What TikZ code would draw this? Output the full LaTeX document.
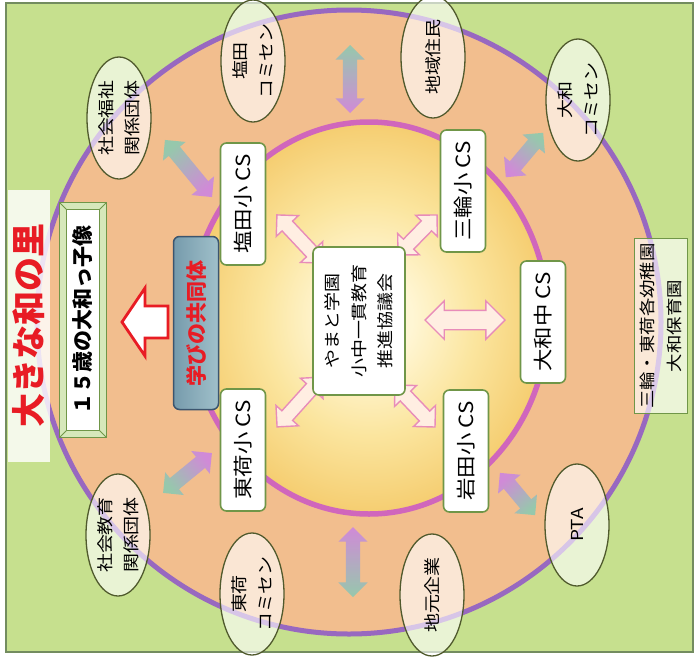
\documentclass[tikz,border=0pt]{standalone}
\usepackage{fontspec}
\setmainfont{Noto Sans CJK JP}[FakeStretch=1.15]
\newfontfamily\plainjp{Noto Sans CJK JP}
\usetikzlibrary{shapes.geometric,shapes.arrows}
\definecolor{bggreen}{RGB}{198,224,142}
\definecolor{peach}{RGB}{242,190,142}
\definecolor{yolkedge}{RGB}{245,205,112}
\definecolor{yolkmid}{RGB}{251,229,158}
\definecolor{yolkctr}{RGB}{255,246,212}
\definecolor{ringpurple}{RGB}{152,104,192}
\definecolor{ringmag}{RGB}{208,102,188}
\definecolor{framegreen}{RGB}{115,140,95}
\definecolor{boxgreen}{RGB}{112,150,72}
\definecolor{olivec}{RGB}{80,90,45}
\definecolor{arrpurple}{RGB}{208,138,215}
\definecolor{arrgreen}{RGB}{150,200,172}
\definecolor{pinkline}{RGB}{232,140,185}
\definecolor{pinkfill}{RGB}{255,238,226}
\definecolor{titlered}{RGB}{232,28,36}
\definecolor{commdark}{RGB}{118,155,172}
\definecolor{commlight}{RGB}{160,192,202}
\definecolor{commline}{RGB}{60,85,110}
\definecolor{frameband}{RGB}{214,232,186}
\pgfdeclareradialshading{yolk}{\pgfpoint{0bp}{0bp}}{color(0bp)=(yolkctr); color(6bp)=(yolkctr); color(15bp)=(yolkmid); color(25bp)=(yolkedge); color(50bp)=(yolkedge)}
\begin{document}
\begin{tikzpicture}[x=1pt,y=-1pt,
  every node/.style={inner sep=0pt, outer sep=0pt},
  partner/.style={ellipse, draw=olivec, line width=1.3pt, fill=white, fill opacity=0.62, text opacity=1, rotate=90, minimum width=122pt, minimum height=64pt, align=center, font=\fontsize{16.5}{26}\selectfont},
  csbox/.style={rectangle, rounded corners=6pt, draw=boxgreen, line width=1.6pt, fill=white, rotate=90, minimum width=122pt, minimum height=45pt, align=center, font=\fontsize{19.5}{24}\selectfont},
  bigarrow/.style={double arrow, inner sep=7pt, double arrow head extend=7.5pt, double arrow tip angle=90, minimum width=29pt, top color=arrgreen, bottom color=arrpurple, draw=none},
  pinkarrow/.style={double arrow, inner sep=6.5pt, double arrow head extend=8pt, double arrow tip angle=90, minimum width=29pt, draw=pinkline, line width=1.4pt, fill=pinkfill},
]
\useasboundingbox (0,0) rectangle (696,659);
\fill[white] (0,0) rectangle (696,659);
\draw[framegreen, line width=1.2pt, fill=bggreen] (6,3) rectangle (693,652);
% rings
\draw[ringpurple, line width=5pt, fill=peach] (349,322) circle [radius=312pt];
\shade[shading=yolk] (369,318) ellipse [x radius=179pt, y radius=196pt];
\draw[ringmag, line width=5.5pt] (369,318) ellipse [x radius=179pt, y radius=196pt];
% title band
\fill[white, opacity=0.82] (8,190) rectangle (50,462);
\node[rotate=90, font=\plainjp\bfseries\fontsize{34}{34}\selectfont, text=titlered] (title) at (29,325) {大きな和の里};
% partner ellipses
\node[partner] (e1) at (119,118) {社会福祉\\関係団体};
\node[partner] (e2) at (253,61) {塩田\\コミセン};
\node[partner] (e3) at (433,57) {地域住民};
\node[partner] (e4) at (578,100) {大和\\コミセン};
\node[partner] (e5) at (118,535) {社会教育\\関係団体};
\node[partner] (e6) at (252,594) {東荷\\コミセン};
\node[partner] (e7) at (432,595) {地元企業};
\node[partner] (e8) at (577,525) {PTA};
% big connectors
\coordinate (a1o) at (165,140); \coordinate (a1i) at (212,197);
\coordinate (a2o) at (350,45);  \coordinate (a2i) at (350,113);
\coordinate (a3o) at (543,133); \coordinate (a3i) at (506,177);
\coordinate (a4o) at (163,493); \coordinate (a4i) at (212,453);
\coordinate (a5i) at (353,527); \coordinate (a5o) at (353,597);
\coordinate (a6i) at (500,473); \coordinate (a6o) at (535,515);
\path (a1o) -- node[bigarrow, sloped, minimum height=74pt, shading angle=39.5] (A1) {} (a1i);
\path (a2o) -- node[bigarrow, sloped, minimum height=68pt, shading angle=0] (A2) {} (a2i);
\path (a3o) -- node[bigarrow, sloped, minimum height=58pt, shading angle=-40] (A3) {} (a3i);
\path (a4o) -- node[bigarrow, sloped, minimum height=63pt, shading angle=129.2] (A4) {} (a4i);
\path (a5i) -- node[bigarrow, sloped, minimum height=70pt, shading angle=180] (A5) {} (a5o);
\path (a6i) -- node[bigarrow, sloped, minimum height=55pt, shading angle=-140.2] (A6) {} (a6o);
% pink connectors
\coordinate (p1a) at (277,215); \coordinate (p1b) at (322,263);
\coordinate (p2a) at (437,215); \coordinate (p2b) at (398,255);
\coordinate (p3a) at (277,427); \coordinate (p3b) at (322,377);
\coordinate (p4a) at (395,385); \coordinate (p4b) at (435,427);
\coordinate (p5a) at (425,320); \coordinate (p5b) at (505,320);
\path (p1a) -- node[pinkarrow, sloped, minimum height=66pt] (P1) {} (p1b);
\path (p2a) -- node[pinkarrow, sloped, minimum height=56pt] (P2) {} (p2b);
\path (p3a) -- node[pinkarrow, sloped, minimum height=67pt] (P3) {} (p3b);
\path (p4a) -- node[pinkarrow, sloped, minimum height=58pt] (P4) {} (p4b);
\path (p5a) -- node[pinkarrow, sloped, minimum height=80pt, minimum width=37pt, inner sep=9pt, double arrow head extend=9.5pt] (P5) {} (p5b);
% CS boxes
\node[csbox] (cs1) at (243,204) {塩田小 CS};
\node[csbox] (cs2) at (463,191) {三輪小 CS};
\node[csbox] (cs3) at (243,450) {東荷小 CS};
\node[csbox] (cs4) at (466,451) {岩田小 CS};
\node[csbox] (cs5) at (543,322) {大和中 CS};
\node[csbox, minimum width=148pt, minimum height=92pt, font=\fontsize{16.5}{26.5}\selectfont] (ctr) at (359,321) {やまと学園\\小中一貫教育\\推進協議会};
% community box
\node[rectangle, rounded corners=6pt, draw=commline, line width=1.5pt, left color=commdark, right color=commlight, rotate=90, minimum width=173pt, minimum height=45pt, font=\plainjp\bfseries\fontsize{21}{21}\selectfont, text=titlered] (manabi) at (196,323) {学びの共同体};
% red arrow
\draw[titlered, line width=2.8pt, line join=miter, fill=white] (122,322) -- (145,288) -- (145,306) -- (168,306) -- (168,338) -- (145,338) -- (145,356) -- cycle;
% 15-year-old box
\node[rectangle, draw=boxgreen, line width=1.2pt, fill=frameband, rotate=90, minimum width=235pt, minimum height=47pt] (ybo) at (83,320) {};
\node[rectangle, draw=boxgreen, line width=1pt, fill=white, rotate=90, minimum width=221pt, minimum height=33pt, font=\plainjp\bfseries\fontsize{21}{21}\selectfont] (ybi) at (83,320) {１５歳の大和っ子像};
\foreach \c in {north east, north west, south east, south west} \draw[boxgreen, line width=0.8pt] (ybo.\c) -- (ybi.\c);
% kindergarten box
\node[rectangle, draw=boxgreen, line width=1.3pt, fill=white, fill opacity=0.65, text opacity=1, rotate=90, minimum width=175pt, minimum height=53pt, align=center, font=\fontsize{16}{27}\selectfont] (kg) at (661,326) {三輪・東荷各幼稚園\\大和保育園};
\end{tikzpicture}
\end{document}
